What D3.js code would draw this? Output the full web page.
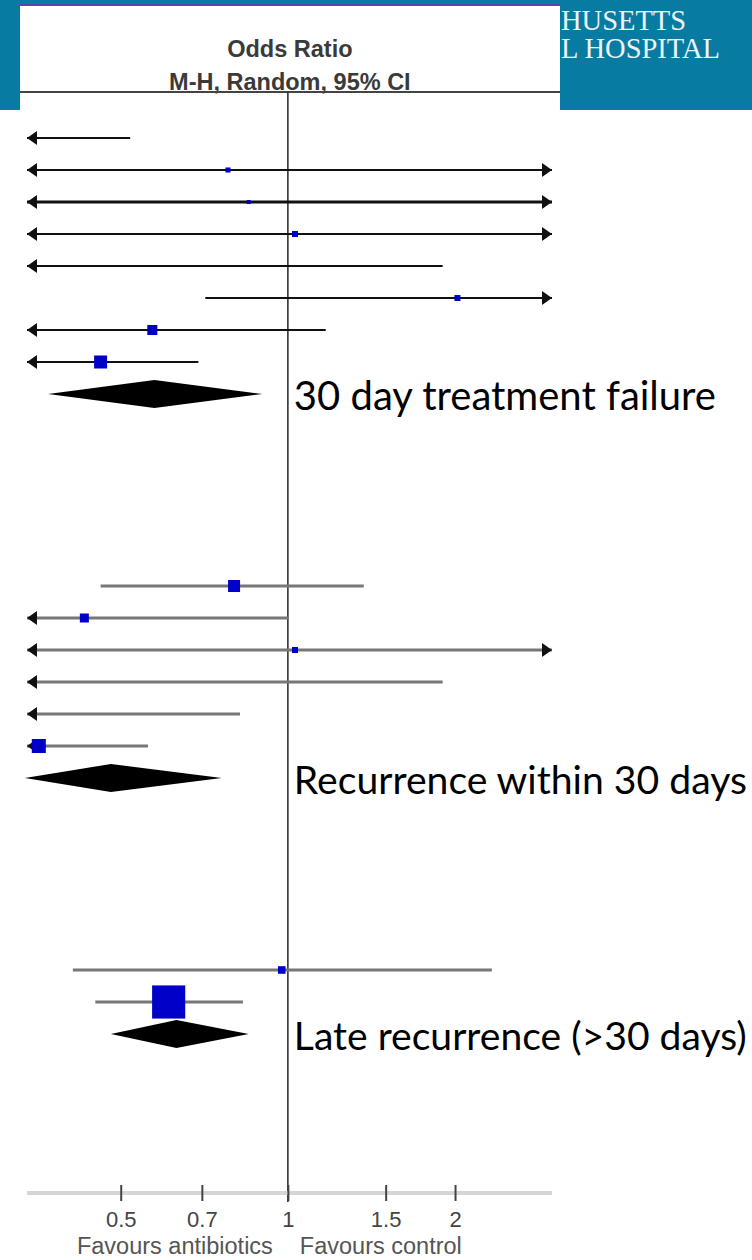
<!DOCTYPE html>
<html>
<head>
<meta charset="utf-8">
<script src="https://cdn.jsdelivr.net/npm/d3@7"></script>
<style>
  body { margin: 0; background: #fff; }
  svg { display: block; }
</style>
</head>
<body>
<div id="chart"></div>
<script>
let width = 752, height = 1260;

// x axis ticks
let tickValues = [0.5, 0.7, 1, 1.5, 2];
let tickLabels = ["0.5", "0.7", "1", "1.5", "2"];

// 30 day treatment failure
let failRows = [0, 1, 2, 3, 4, 5, 6, 7];
let failOR   = [0.10, 0.78, 0.85, 1.03, 0.30, 2.02, 0.57, 0.46];
let failLo   = [0.01, 0.01, 0.01, 0.01, 0.01, 0.71, 0.01, 0.01];
let failHi   = [0.52, 50, 50, 50, 1.90, 50, 1.17, 0.69];
let failW    = [2.0, 2.2, 1.4, 3.1, 2.0, 3.1, 8.7, 14.6];
let failTotal = [0.37, 0.575, 0.90];

// recurrence within 30 days
let recRows = [14, 15, 16, 17, 18, 19];
let recOR   = [0.80, 0.43, 1.03, 0.30, 0.20, 0.356];
let recLo   = [0.46, 0.01, 0.01, 0.01, 0.01, 0.01];
let recHi   = [1.37, 1.00, 50, 1.90, 0.82, 0.56];
let recW    = [12.5, 7.0, 3.1, 2.0, 2.0, 17.0];
let recTotal = [0.336, 0.48, 0.76];

// late recurrence (>30 days)
let lateRows = [26, 27];
let lateOR   = [0.975, 0.61];
let lateLo   = [0.41, 0.45];
let lateHi   = [2.33, 0.83];
let lateW    = [5.0, 95.0];
let lateTotal = [0.48, 0.63, 0.85];

let groupNames = ["30 day treatment failure", "Recurrence within 30 days", "Late recurrence (>30 days)"];
let totalRows = [8, 20, 28];

let groups = [
  {name: groupNames[0], rows: failRows, or: failOR, lo: failLo, hi: failHi, w: failW, total: failTotal, totalRow: totalRows[0]},
  {name: groupNames[1], rows: recRows, or: recOR, lo: recLo, hi: recHi, w: recW, total: recTotal, totalRow: totalRows[1]},
  {name: groupNames[2], rows: lateRows, or: lateOR, lo: lateLo, hi: lateHi, w: lateW, total: lateTotal, totalRow: totalRows[2]}
];

let x = d3.scaleLog().domain([0.339, 2.99]).range([27, 552]);
let y = d3.scaleLinear().domain([0, 28]).range([138, 1034]);
let boxSize = d3.scaleSqrt().domain([0, 100]).range([0, 34]);

let svg = d3.select("#chart").append("svg")
    .attr("width", width)
    .attr("height", height);

// teal banner behind the white panel
svg.append("rect")
    .attr("x", 0).attr("y", 0)
    .attr("width", width).attr("height", 110)
    .attr("fill", "#087ba2");

svg.append("g")
    .attr("font-family", "'Liberation Serif', 'DejaVu Serif', serif")
    .attr("font-size", 28.5)
    .attr("fill", "#eef4f7")
    .selectAll("text")
    .data(["HUSETTS", "L HOSPITAL"])
    .enter().append("text")
    .attr("x", 561)
    .attr("y", (d, i) => 30 + i * 28)
    .text(d => d);

// white panel
svg.append("rect")
    .attr("x", 20).attr("y", 5)
    .attr("width", 540).attr("height", height)
    .attr("fill", "#fff");
svg.append("rect")
    .attr("x", 0).attr("y", 110)
    .attr("width", width).attr("height", height - 110)
    .attr("fill", "#fff");
svg.append("line")
    .attr("x1", 20).attr("x2", 560)
    .attr("y1", 5).attr("y2", 5)
    .attr("stroke", "#5a46a8").attr("stroke-width", 2);

// header
let header = svg.append("g")
    .attr("font-family", "'Liberation Sans', Arial, sans-serif")
    .attr("font-weight", "bold")
    .attr("font-size", 23.5)
    .attr("fill", "#3a3a3a")
    .attr("text-anchor", "middle");
header.append("text").attr("x", x(1) + 2).attr("y", 57).text("Odds Ratio");
header.append("text").attr("x", x(1) + 2).attr("y", 90).text("M-H, Random, 95% CI");

svg.append("line")
    .attr("x1", 20).attr("x2", 560)
    .attr("y1", 92).attr("y2", 92)
    .attr("stroke", "#444").attr("stroke-width", 2);

// line of no effect
svg.append("line")
    .attr("x1", x(1)).attr("x2", x(1))
    .attr("y1", 92).attr("y2", 1202)
    .attr("stroke", "#333").attr("stroke-width", 1.6);

// x axis
svg.append("line")
    .attr("x1", x.range()[0]).attr("x2", x.range()[1])
    .attr("y1", 1193).attr("y2", 1193)
    .attr("stroke", "#d6d6d6").attr("stroke-width", 4);

let axis = svg.append("g")
    .attr("transform", "translate(0,1185)")
    .call(d3.axisBottom(x).tickValues(tickValues).tickFormat((d, i) => tickLabels[i]).tickSize(16).tickPadding(10));
axis.select(".domain").remove();
axis.selectAll(".tick line").attr("stroke", "#444").attr("stroke-width", 2);
axis.selectAll(".tick text")
    .attr("font-family", "'Liberation Sans', Arial, sans-serif")
    .attr("font-size", 22)
    .attr("fill", "#444");

let favours = svg.append("g")
    .attr("font-family", "'Liberation Sans', Arial, sans-serif")
    .attr("font-size", 23.5)
    .attr("fill", "#555");
favours.append("text").attr("x", x(1) - 15).attr("y", 1254).attr("text-anchor", "end").text("Favours antibiotics");
favours.append("text").attr("x", x(1) + 12).attr("y", 1254).text("Favours control");

// draw the groups
let [dMin, dMax] = x.domain();

groups.forEach((g, gi) => {
    let lineColor = gi == 0 ? "#111" : "#777";
    let layer = svg.append("g");

    let rows = g.rows.map((r, i) => ({row: r, or: g.or[i], lo: g.lo[i], hi: g.hi[i], w: g.w[i], idx: i}));

    rows.forEach(d => {
        let yy = y(d.row);
        let x1 = x(Math.max(d.lo, dMin)), x2 = x(Math.min(d.hi, dMax));
        let sw = gi == 0 ? (d.idx == 2 ? 3 : 2) : 3;
        layer.append("line")
            .attr("x1", x1).attr("x2", x2)
            .attr("y1", yy).attr("y2", yy)
            .attr("stroke", lineColor).attr("stroke-width", sw);
        if (d.lo < dMin) {
            layer.append("path")
                .attr("d", `M${x1},${yy} l10,-7 l0,14 z`)
                .attr("fill", "#111");
        }
        if (d.hi > dMax) {
            layer.append("path")
                .attr("d", `M${x2},${yy} l-10,-7 l0,14 z`)
                .attr("fill", "#111");
        }
        if (d.or >= dMin && d.or <= dMax) {
            let s = boxSize(d.w);
            layer.append("rect")
                .attr("x", x(d.or) - s / 2)
                .attr("y", yy - s / 2)
                .attr("width", s).attr("height", s)
                .attr("fill", "#0000c8");
        }
    });

    // pooled diamond
    let ty = y(g.totalRow);
    let [lo, est, hi] = g.total;
    layer.append("path")
        .attr("d", `M${x(lo)},${ty} L${x(est)},${ty - 14} L${x(hi)},${ty} L${x(est)},${ty + 14} Z`)
        .attr("fill", "#000");

    // group label, shrunk to fit the space right of the line of no effect
    let label = svg.append("text")
        .attr("x", x(1) + 6)
        .attr("y", ty + 16)
        .attr("font-family", "Lato, 'Open Sans', sans-serif")
        .attr("font-size", 40)
        .attr("fill", "#000")
        .text(g.name);
    let room = width - (x(1) + 6) - 5;
    let len = label.node().getComputedTextLength();
    if (len > room) label.attr("font-size", 40 * room / len);
});
</script>
</body>
</html>
